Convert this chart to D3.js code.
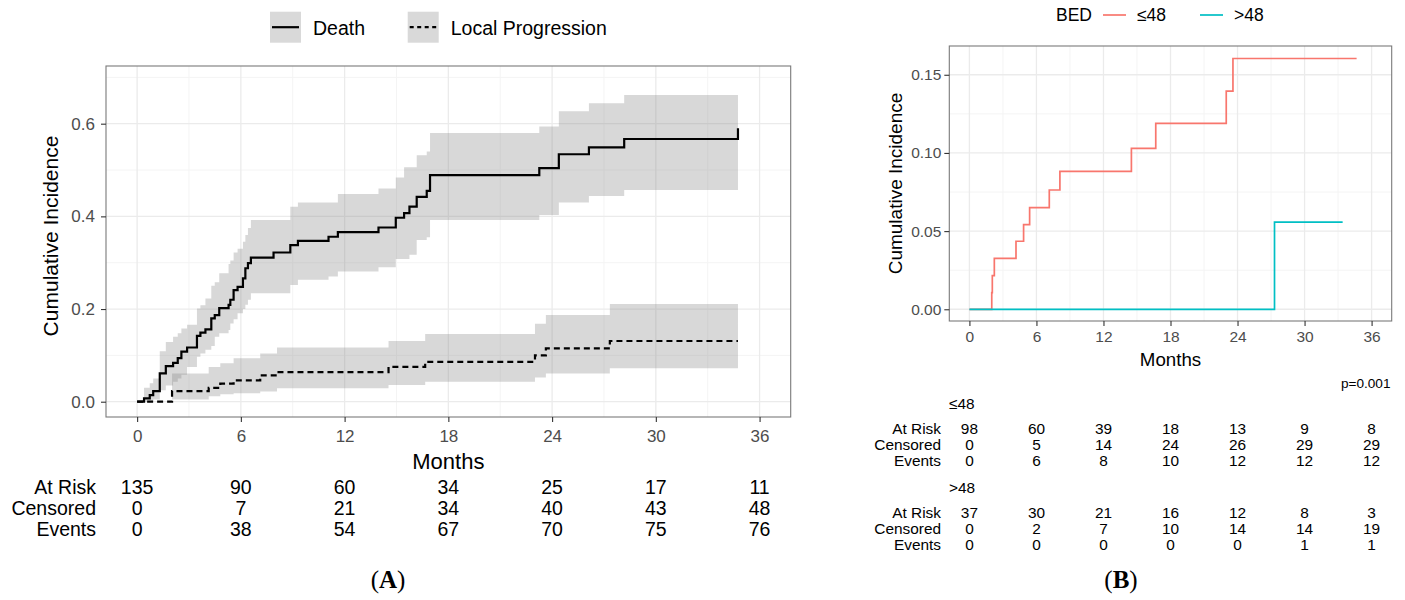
<!DOCTYPE html>
<html>
<head>
<meta charset="utf-8">
<script src="https://cdn.jsdelivr.net/npm/d3@7"></script>
<style>
  body { margin: 0; background: #fff; }
  text { font-family: "Liberation Sans", Arial, Helvetica, sans-serif; }
</style>
</head>
<body>
<script>
const width = 1405;
const height = 600;

// ---- panel A: cumulative incidence, death vs local progression ----
const deathTime = [0, 0.4, 0.73, 0.93, 1.31, 1.66, 2.08, 2.35, 2.56, 2.89, 3.46, 3.66, 3.95, 4.29, 4.49, 4.75,
    5.29, 5.39, 5.58, 5.81, 6.12, 6.26, 6.41, 6.58, 7.89, 8.86, 9.3, 11.07, 11.61, 13.96, 14.96, 15.44, 15.75,
    16.17, 16.75, 16.94, 23.26, 24.39, 26.13, 28.17];
const deathEst = [0, 0.007, 0.014, 0.023, 0.061, 0.077, 0.084, 0.094, 0.108, 0.117, 0.142, 0.149, 0.156, 0.18, 0.187, 0.202,
    0.209, 0.22, 0.241, 0.248, 0.266, 0.288, 0.299, 0.311, 0.322, 0.338, 0.347, 0.356, 0.366, 0.376, 0.397, 0.407, 0.421,
    0.442, 0.455, 0.489, 0.504, 0.534, 0.549, 0.567];
const deathLow = [0, 0, 0, 0.005, 0.025, 0.035, 0.043, 0.05, 0.058, 0.075, 0.097, 0.104, 0.112, 0.12, 0.14, 0.148,
    0.155, 0.169, 0.178, 0.191, 0.2, 0.209, 0.22, 0.234, 0.234, 0.252, 0.263, 0.27, 0.281, 0.29, 0.308, 0.308, 0.317,
    0.349, 0.355, 0.392, 0.403, 0.43, 0.444, 0.457];
const deathHigh = [0, 0.03, 0.04, 0.05, 0.109, 0.129, 0.14, 0.148, 0.158, 0.166, 0.201, 0.208, 0.223, 0.25, 0.258, 0.277,
    0.297, 0.305, 0.322, 0.33, 0.345, 0.36, 0.375, 0.392, 0.392, 0.421, 0.43, 0.43, 0.448, 0.46, 0.484, 0.506, 0.506,
    0.532, 0.54, 0.58, 0.594, 0.627, 0.644, 0.662];
const deathEnd = 34.75;
const deathLastEvent = 0.59;

const lpTime = [0, 2.02, 4.14, 4.81, 5.58, 7.12, 8.09, 14.54, 16.66, 23.01, 23.64, 27.34];
const lpEst = [0, 0.023, 0.03, 0.039, 0.046, 0.057, 0.064, 0.075, 0.086, 0.1, 0.115, 0.131];
const lpLow = [0, 0.005, 0.012, 0.016, 0.018, 0.022, 0.029, 0.036, 0.043, 0.052, 0.061, 0.072];
const lpHigh = [0, 0.061, 0.075, 0.083, 0.094, 0.104, 0.117, 0.131, 0.146, 0.168, 0.187, 0.211];
const lpEnd = 34.75;

const legendA = ["Death", "Local Progression"];
const dashA = [null, "6,4"];

const riskTimes = [0, 6, 12, 18, 24, 30, 36];
const rowLabels = ["At Risk", "Censored", "Events"];
const tableA = [
    [135, 90, 60, 34, 25, 17, 11],
    [0, 7, 21, 34, 40, 43, 48],
    [0, 38, 54, 67, 70, 75, 76]
];

// ---- panel B: local progression by BED ----
const bedGroups = ["≤48", ">48"];
const bedColors = ["#F8766D", "#00BFC4"];
const bedLowTime = [0, 2.0, 2.05, 2.23, 4.17, 4.85, 5.39, 7.15, 8.1, 14.5, 16.68, 22.99, 23.59];
const bedLowEst = [0, 0.0107, 0.0215, 0.0326, 0.0435, 0.0541, 0.065, 0.0763, 0.0882, 0.1029, 0.1189, 0.1396, 0.1604];
const bedLowEnd = 34.66;
const bedHighTime = [0, 27.31];
const bedHighEst = [0, 0.0558];
const bedHighEnd = 33.41;

const tableB = [
    [[98, 60, 39, 18, 13, 9, 8], [0, 5, 14, 24, 26, 29, 29], [0, 6, 8, 10, 12, 12, 12]],
    [[37, 30, 21, 16, 12, 8, 3], [0, 2, 7, 10, 14, 14, 19], [0, 0, 0, 0, 0, 1, 1]]
];
const pValue = "p=0.001";

const svg = d3.select("body").append("svg")
    .attr("width", width)
    .attr("height", height);

// scales (x limits 0-36 with ggplot's 5% expansion)
const xA = d3.scaleLinear().domain([-1.8, 37.8]).range([106, 790.7]);
const yA = d3.scaleLinear().domain([-0.033, 0.7245]).range([417, 66]);
const xB = d3.scaleLinear().domain([-1.8, 37.8]).range([949.3, 1391.7]);
const yB = d3.scaleLinear().domain([-0.0075, 0.1684]).range([321, 46]);

function panel(x, y, yMajor, yMinor) {
    const g = svg.append("g");
    const [x0, x1] = x.range();
    const [y1, y0] = y.range();
    const xMinor = d3.range(3, 36, 6);
    g.selectAll(".vmin").data(xMinor).enter().append("line")
        .attr("x1", x).attr("x2", x).attr("y1", y0).attr("y2", y1)
        .attr("stroke", "#f4f4f4").attr("stroke-width", 1);
    g.selectAll(".hmin").data(yMinor).enter().append("line")
        .attr("x1", x0).attr("x2", x1).attr("y1", y).attr("y2", y)
        .attr("stroke", "#f4f4f4").attr("stroke-width", 1);
    g.selectAll(".vmaj").data(riskTimes).enter().append("line")
        .attr("x1", x).attr("x2", x).attr("y1", y0).attr("y2", y1)
        .attr("stroke", "#ebebeb").attr("stroke-width", 1.3);
    g.selectAll(".hmaj").data(yMajor).enter().append("line")
        .attr("x1", x0).attr("x2", x1).attr("y1", y).attr("y2", y)
        .attr("stroke", "#ebebeb").attr("stroke-width", 1.3);
    return g;
}

function border(x, y) {
    const [x0, x1] = x.range();
    const [y1, y0] = y.range();
    svg.append("rect")
        .attr("x", x0).attr("y", y0)
        .attr("width", x1 - x0).attr("height", y1 - y0)
        .attr("fill", "none").attr("stroke", "#7a7a7a").attr("stroke-width", 1.1);
}

function axes(x, y, yTicks, fmt, fs, padX, padY) {
    const ax = svg.append("g")
        .attr("transform", `translate(0,${y.range()[0]})`)
        .call(d3.axisBottom(x).tickValues(riskTimes).tickSize(5).tickPadding(padX));
    const ay = svg.append("g")
        .attr("transform", `translate(${x.range()[0]},0)`)
        .call(d3.axisLeft(y).tickValues(yTicks).tickFormat(d3.format(fmt)).tickSize(5).tickPadding(padY));
    [ax, ay].forEach(a => {
        a.select(".domain").remove();
        a.selectAll("line").attr("stroke", "#333").attr("stroke-width", 1.1);
        a.selectAll("text").attr("fill", "#4d4d4d")
            .style("font-size", fs + "px")
            .style("font-family", '"Liberation Sans", Arial, sans-serif');
    });
}

const stepLine = (x, y) => d3.line().curve(d3.curveStepAfter).x(d => x(d[0])).y(d => y(d[1]));
const stepArea = (x, y) => d3.area().curve(d3.curveStepAfter)
    .x(d => x(d[0])).y0(d => y(d[1])).y1(d => y(d[2]));

// ===== Panel A =====
panel(xA, yA, [0, 0.2, 0.4, 0.6], [0.1, 0.3, 0.5, 0.7]);

const deathBand = deathTime.map((t, i) => [t, deathLow[i], deathHigh[i]]);
deathBand.push([deathEnd, deathLow[deathLow.length - 1], deathHigh[deathHigh.length - 1]]);
const lpBand = lpTime.map((t, i) => [t, lpLow[i], lpHigh[i]]);
lpBand.push([lpEnd, lpLow[lpLow.length - 1], lpHigh[lpHigh.length - 1]]);

[deathBand, lpBand].forEach(b => {
    svg.append("path").datum(b)
        .attr("d", stepArea(xA, yA))
        .attr("fill", "#7f7f7f").attr("fill-opacity", 0.3);
});

const deathPts = deathTime.map((t, i) => [t, deathEst[i]]);
deathPts.push([deathEnd, deathEst[deathEst.length - 1]], [deathEnd, deathLastEvent]);
const lpPts = lpTime.map((t, i) => [t, lpEst[i]]);
lpPts.push([lpEnd, lpEst[lpEst.length - 1]]);

[deathPts, lpPts].forEach((p, i) => {
    svg.append("path").datum(p)
        .attr("d", stepLine(xA, yA))
        .attr("fill", "none").attr("stroke", "#000").attr("stroke-width", 2.2)
        .attr("stroke-dasharray", dashA[i]);
});

border(xA, yA);
axes(xA, yA, [0, 0.2, 0.4, 0.6], ".1f", 17, 8, 6);

svg.append("text")
    .attr("x", d3.mean(xA.range())).attr("y", 461)
    .attr("text-anchor", "middle").attr("dominant-baseline", "central")
    .style("font-size", "22px").text("Months");
svg.append("text")
    .attr("transform", "translate(50,236) rotate(-90)")
    .attr("text-anchor", "middle").attr("dominant-baseline", "central")
    .style("font-size", "21px").text("Cumulative Incidence");

// legend A
const legA = svg.append("g").selectAll("g").data(legendA).enter().append("g")
    .attr("transform", (d, i) => `translate(${[270, 407.7][i]},11.7)`);
legA.append("rect").attr("width", 31).attr("height", 31).attr("fill", "#d9d9d9");
legA.append("line").attr("x1", 2).attr("x2", 29).attr("y1", 15.5).attr("y2", 15.5)
    .attr("stroke", "#000").attr("stroke-width", 2.2)
    .attr("stroke-dasharray", (d, i) => i ? "4,3.5" : null);
legA.append("text").attr("x", 43).attr("y", 16.5)
    .attr("dominant-baseline", "central")
    .style("font-size", "19.5px").text(d => d);

// risk table A
const rowYA = [487, 508, 529];
rowLabels.forEach((lab, r) => {
    svg.append("text").attr("x", 96).attr("y", rowYA[r])
        .attr("text-anchor", "end").attr("dominant-baseline", "central")
        .style("font-size", "19.5px").text(lab);
    svg.append("g").selectAll("text").data(tableA[r]).enter().append("text")
        .attr("x", (d, i) => xA(riskTimes[i])).attr("y", rowYA[r])
        .attr("text-anchor", "middle").attr("dominant-baseline", "central")
        .style("font-size", "19.5px").text(d => d);
});

// ===== Panel B =====
panel(xB, yB, [0, 0.05, 0.1, 0.15], [0.025, 0.075, 0.125]);

const bedLowPts = bedLowTime.map((t, i) => [t, bedLowEst[i]]);
bedLowPts.push([bedLowEnd, bedLowEst[bedLowEst.length - 1]]);
const bedHighPts = bedHighTime.map((t, i) => [t, bedHighEst[i]]);
bedHighPts.push([bedHighEnd, bedHighEst[bedHighEst.length - 1]]);

[bedLowPts, bedHighPts].forEach((p, i) => {
    svg.append("path").datum(p)
        .attr("d", stepLine(xB, yB))
        .attr("fill", "none").attr("stroke", bedColors[i]).attr("stroke-width", 1.7);
});

border(xB, yB);
axes(xB, yB, [0, 0.05, 0.1, 0.15], ".2f", 15.5, 4.5, 3);

svg.append("text")
    .attr("x", d3.mean(xB.range())).attr("y", 359)
    .attr("text-anchor", "middle").attr("dominant-baseline", "central")
    .style("font-size", "18.7px").text("Months");
svg.append("text")
    .attr("transform", `translate(895,${d3.mean(yB.range())}) rotate(-90)`)
    .attr("text-anchor", "middle").attr("dominant-baseline", "central")
    .style("font-size", "19px").text("Cumulative Incidence");

// legend B
const legB = svg.append("g");
legB.append("text").attr("x", 1056).attr("y", 15)
    .attr("dominant-baseline", "central").style("font-size", "17.5px").text("BED");
bedGroups.forEach((gname, i) => {
    const x0 = [1103, 1200][i];
    legB.append("line").attr("x1", x0).attr("x2", x0 + 23).attr("y1", 15).attr("y2", 15)
        .attr("stroke", bedColors[i]).attr("stroke-width", 1.7);
    legB.append("text").attr("x", x0 + 34).attr("y", 15)
        .attr("dominant-baseline", "central").style("font-size", "17.5px").text(gname);
});

svg.append("text").attr("x", 1390.5).attr("y", 383.6)
    .attr("text-anchor", "end").attr("dominant-baseline", "central")
    .style("font-size", "13.6px").text(pValue);

// risk tables B
const groupYB = [403, 487];
bedGroups.forEach((gname, gi) => {
    const y0 = groupYB[gi];
    svg.append("text").attr("x", 949).attr("y", y0)
        .attr("dominant-baseline", "central").style("font-size", "15.4px").text(gname);
    rowLabels.forEach((lab, r) => {
        const yy = y0 + 25 + r * 16;
        svg.append("text").attr("x", 941).attr("y", yy)
            .attr("text-anchor", "end").attr("dominant-baseline", "central")
            .style("font-size", "15.4px").text(lab);
        svg.append("g").selectAll("text").data(tableB[gi][r]).enter().append("text")
            .attr("x", (d, i) => xB(riskTimes[i])).attr("y", yy)
            .attr("text-anchor", "middle").attr("dominant-baseline", "central")
            .style("font-size", "15.4px").text(d => d);
    });
});

// panel captions
[["(A)", 388], ["(B)", 1121]].forEach(([lab, x]) => {
    const t = svg.append("text").attr("x", x).attr("y", 579)
        .attr("text-anchor", "middle").attr("dominant-baseline", "central")
        .style("font-family", '"Liberation Serif", "Times New Roman", serif')
        .style("font-size", "25px").style("font-weight", "bold");
    t.append("tspan").style("font-weight", "normal").text("(");
    t.append("tspan").text(lab[1]);
    t.append("tspan").style("font-weight", "normal").text(")");
});
</script>
</body>
</html>
